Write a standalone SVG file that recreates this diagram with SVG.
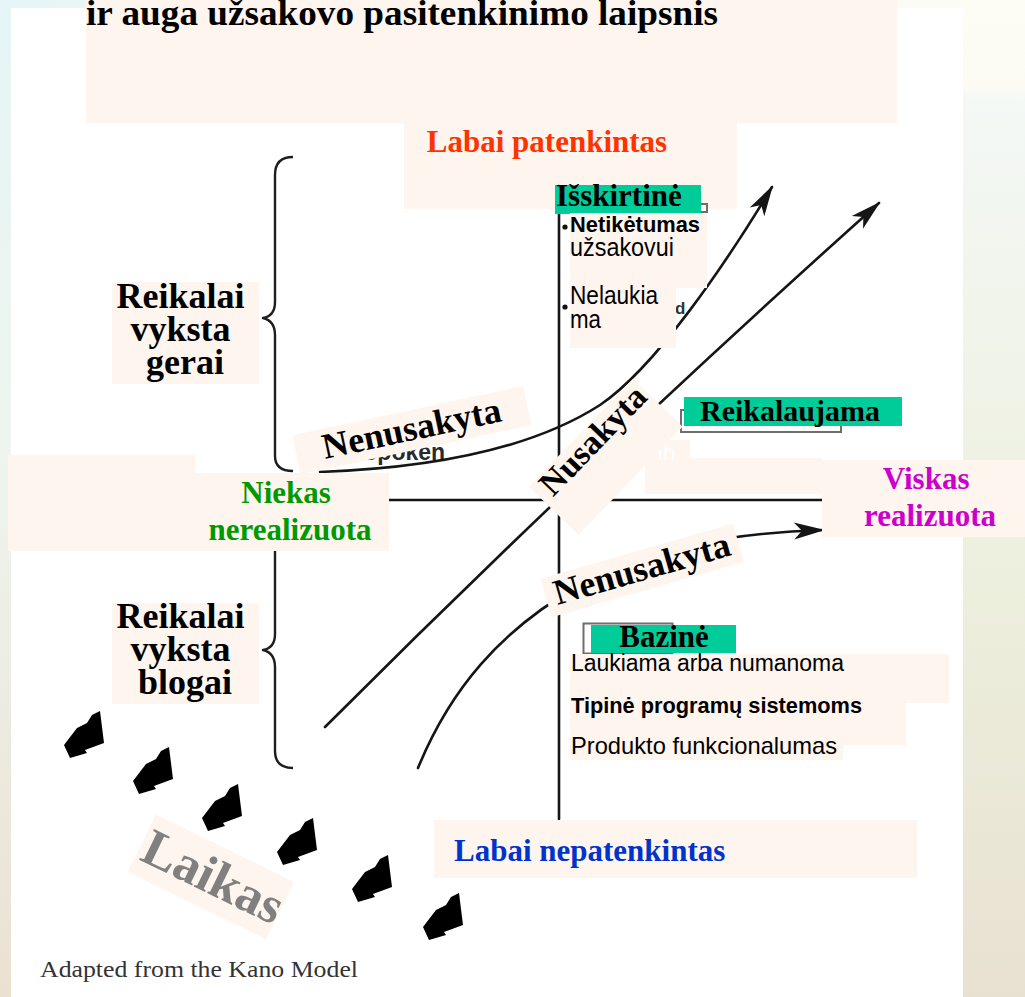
<svg xmlns="http://www.w3.org/2000/svg" width="1025" height="997" viewBox="0 0 1025 997">
  <style>
    .pe { fill: #fef5ef; }
    .gr { fill: #00cc99; }
    .frm { fill: none; stroke: #6e6e6e; stroke-width: 2; }
    .ln { fill: none; stroke: #151515; stroke-width: 2.6; stroke-linecap: round; }
    .br { fill: none; stroke: #1e1e1e; stroke-width: 2.4; stroke-linejoin: round; }
    .sb { font-family: "Liberation Serif", "Times New Roman", serif; font-weight: bold; }
    .ss { font-family: "Liberation Sans", Arial, sans-serif; }
    .ssb { font-family: "Liberation Sans", Arial, sans-serif; font-weight: bold; }
  </style>
  <defs>
    <linearGradient id="gLeft" x1="0" y1="0" x2="0" y2="1">
      <stop offset="0" stop-color="#e6f5f7"/>
      <stop offset="0.45" stop-color="#eef5ee"/>
      <stop offset="1" stop-color="#ebe1d3"/>
    </linearGradient>
    <linearGradient id="gRight" x1="0" y1="0" x2="0" y2="1">
      <stop offset="0" stop-color="#fdfdf4"/>
      <stop offset="0.09" stop-color="#fbfbf4"/>
      <stop offset="0.1" stop-color="#f4f8f6"/>
      <stop offset="0.55" stop-color="#edf0de"/>
      <stop offset="1" stop-color="#e8e1d2"/>
    </linearGradient>
    <linearGradient id="gTop" x1="0" y1="0" x2="1" y2="0">
      <stop offset="0" stop-color="#e6f5f7"/>
      <stop offset="1" stop-color="#fdfdf4"/>
    </linearGradient>
    <marker id="ah" markerUnits="userSpaceOnUse" orient="auto" refX="0" refY="0" markerWidth="1" markerHeight="1" style="overflow:visible">
      <path d="M2,0 L-29,-8.5 L-21,0 L-29,8.5 Z" fill="#151515"/>
    </marker>
    <!-- chunky block arrow pointing down-left, origin at its upper-right corner -->
    <path id="blk" d="M0,0 L4,32 L-15,39 L-13,42 L-30,47 L-36,34 L-23,17 L-13,12 L-8,4 Z" fill="#000"/>
  </defs>

  <!-- page background and white sheet -->
  <rect x="0" y="0" width="1025" height="997" fill="url(#gTop)"/>
  <rect x="0" y="0" width="11" height="997" fill="url(#gLeft)"/>
  <rect x="963" y="0" width="62" height="997" fill="url(#gRight)"/>
  <rect x="11" y="8" width="952" height="989" fill="#ffffff"/>

  <!-- heading -->
  <g id="title">
    <rect class="pe" x="86" y="0" width="811" height="123"/>
    <text class="sb" x="86" y="25" font-size="36" textLength="632" lengthAdjust="spacingAndGlyphs">ir auga užsakovo pasitenkinimo laipsnis</text>
  </g>

  <g id="top-label">
    <rect class="pe" x="404" y="123" width="333" height="86"/>
    <text class="sb" x="547" y="152" font-size="31" fill="#ff3300" text-anchor="middle">Labai patenkintas</text>
  </g>

  <!-- faint leftover lettering under the labels -->
  <text class="ssb" x="362" y="460" font-size="23" fill="#2a2a2a">Spoken</text>
  <text class="ssb" x="675" y="314" font-size="17" fill="#333">d</text>

  <!-- axes, curves and arrows -->
  <g id="connectors">
    <line class="ln" x1="559" y1="186" x2="559" y2="819"/>
    <line class="ln" x1="356" y1="500" x2="822" y2="500"/>
    <path class="ln" d="M320,472 C430,468 530,450 600,405 C655,368 725,265 772,187" marker-end="url(#ah)"/>
    <path class="ln" d="M325,727 Q597,455 879,203" marker-end="url(#ah)"/>
    <path class="ln" d="M418,768 C450,690 500,630 580,585 C650,548 730,533 823,530" marker-end="url(#ah)"/>
  </g>

  <!-- braces -->
  <g id="brace-good">
    <path class="br" d="M293,157 Q275,157 275,175 L275,302 Q275,316 263,318 Q275,321 275,335 L275,456 Q275,471 293,471"/>
  </g>
  <g id="brace-bad">
    <path class="br" d="M293,532 Q275,532 275,550 L275,634 Q275,648 263,650 Q275,653 275,667 L275,751 Q275,768 293,768"/>
  </g>

  <!-- side captions -->
  <g id="good">
    <rect class="pe" x="112" y="282" width="147" height="102"/>
    <text class="sb" font-size="36" text-anchor="middle" x="185">
      <tspan x="185" y="308">Reikalai</tspan>
      <tspan x="185" y="341">vyksta</tspan>
      <tspan x="185" y="374">gerai</tspan>
    </text>
  </g>
  <g id="bad">
    <rect class="pe" x="112" y="603" width="147" height="101"/>
    <text class="sb" font-size="36" text-anchor="middle" x="185">
      <tspan x="185" y="628">Reikalai</tspan>
      <tspan x="185" y="661">vyksta</tspan>
      <tspan x="185" y="694">blogai</tspan>
    </text>
  </g>

  <g id="nothing">
    <rect class="pe" x="8" y="455" width="187" height="96"/>
    <rect class="pe" x="195" y="473" width="194" height="78"/>
    <text class="sb" font-size="31" fill="#009900" text-anchor="middle">
      <tspan x="290" y="503">Niekas</tspan>
      <tspan x="290" y="540">nerealizuota</tspan>
    </text>
  </g>

  <g id="everything">
    <rect class="pe" x="822" y="460" width="203" height="77"/>
    <text class="sb" font-size="31" fill="#cc00cc" text-anchor="middle">
      <tspan x="930" y="489">Viskas</tspan>
      <tspan x="930" y="526">realizuota</tspan>
    </text>
  </g>

  <!-- exciting attributes -->
  <g id="exciting">
    <rect class="frm" x="560" y="204" width="147" height="8"/>
    <rect class="gr" x="555" y="185" width="146" height="29"/>
    <text class="sb" x="556" y="206" font-size="31">Išskirtinė</text>
    <rect class="pe" x="570" y="213" width="137" height="75"/>
    <rect class="pe" x="570" y="287" width="106" height="61"/>
    <circle cx="565" cy="227" r="2.6" fill="#111"/>
    <circle cx="565" cy="307" r="2.6" fill="#111"/>
    <text class="ssb" x="570" y="232" font-size="22" textLength="130" lengthAdjust="spacingAndGlyphs">Netikėtumas</text>
    <text class="ss" x="570" y="256" font-size="26" textLength="104" lengthAdjust="spacingAndGlyphs">užsakovui</text>
    <text class="ss" x="570" y="304" font-size="26" textLength="88" lengthAdjust="spacingAndGlyphs">Nelaukia</text>
    <text class="ss" x="570" y="328" font-size="26" textLength="31" lengthAdjust="spacingAndGlyphs">ma</text>
  </g>

  <!-- performance attributes -->
  <g id="performance">
    <rect class="frm" x="681" y="410" width="160" height="22"/>
    <rect class="gr" x="684" y="397" width="218" height="29"/>
    <text class="sb" x="700" y="421" font-size="30">Reikalaujama</text>
    <rect class="pe" x="645" y="440" width="45" height="54"/>
    <rect class="pe" x="645" y="458" width="177" height="36"/>
    <text class="ss" x="647" y="460" font-size="22" fill="#ffffff">Hh</text>
  </g>

  <!-- basic attributes -->
  <g id="basic">
    <rect class="frm" x="583.5" y="623.5" width="89" height="30"/>
    <rect class="gr" x="591" y="625" width="145" height="28"/>
    <text class="sb" x="664" y="647" font-size="31" text-anchor="middle">Bazinė</text>
    <rect class="pe" x="570" y="654" width="379" height="49"/>
    <rect class="pe" x="570" y="703" width="336" height="42"/>
    <rect class="pe" x="570" y="733" width="273" height="27"/>
    <text class="ss" x="571" y="671" font-size="23" textLength="273" lengthAdjust="spacingAndGlyphs">Laukiama arba numanoma</text>
    <text class="ssb" x="571" y="713" font-size="22" textLength="291" lengthAdjust="spacingAndGlyphs">Tipinė programų sistemoms</text>
    <text class="ss" x="571" y="754" font-size="24" textLength="266" lengthAdjust="spacingAndGlyphs">Produkto funkcionalumas</text>
  </g>

  <!-- slanted curve labels -->
  <g id="unspoken-top" transform="translate(414,440) rotate(-12)">
    <rect class="pe" x="-118" y="-30" width="236" height="40"/>
    <text class="sb" x="0" y="0" font-size="36" text-anchor="middle">Nenusakyta</text>
  </g>
  <g id="spoken" transform="translate(601,448) rotate(-46)">
    <rect class="pe" x="-78" y="-25" width="150" height="69"/>
    <text class="sb" x="0" y="0" font-size="34" text-anchor="middle">Nusakyta</text>
  </g>
  <g id="unspoken-bottom" transform="translate(645,580) rotate(-16)">
    <rect class="pe" x="-100" y="-30" width="200" height="40"/>
    <text class="sb" x="0" y="0" font-size="36" text-anchor="middle">Nenusakyta</text>
  </g>

  <g id="bottom-label">
    <rect class="pe" x="434" y="820" width="483" height="58"/>
    <text class="sb" x="454" y="861" font-size="31" fill="#0033cc">Labai nepatenkintas</text>
  </g>

  <!-- time arrows -->
  <g id="time-arrows">
    <use href="#blk" x="100" y="711"/>
    <use href="#blk" x="169" y="747"/>
    <use href="#blk" x="238" y="784"/>
    <use href="#blk" x="313" y="818"/>
    <use href="#blk" x="388" y="855"/>
    <use href="#blk" x="459" y="893"/>
  </g>

  <g id="time" transform="translate(211,877) rotate(26)">
    <rect class="pe" x="-77" y="-32" width="154" height="64"/>
    <text class="sb" x="2" y="16" font-size="52" fill="#808080" text-anchor="middle">Laikas</text>
  </g>

  <text id="source" x="40" y="977" font-family="Liberation Serif, Times New Roman, serif" font-size="23" fill="#333" textLength="318" lengthAdjust="spacingAndGlyphs">Adapted from the Kano Model</text>
</svg>
